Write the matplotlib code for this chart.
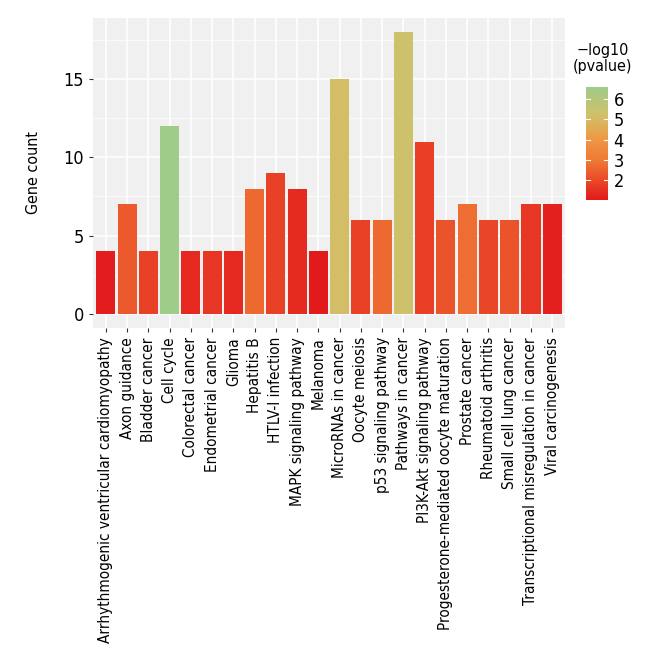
import matplotlib
matplotlib.use('Agg')
import matplotlib.pyplot as plt
import numpy as np
from matplotlib.colors import LinearSegmentedColormap, Normalize

# Données
pathways = ['Arrhythmogenic ventricular cardiomyopathy', 'Axon guidance', 'Bladder cancer',
            'Cell cycle', 'Colorectal cancer', 'Endometrial cancer', 'Glioma', 'Hepatitis B',
            'HTLV-I infection', 'MAPK signaling pathway', 'Melanoma', 'MicroRNAs in cancer',
            'Oocyte meiosis', 'p53 signaling pathway', 'Pathways in cancer',
            'PI3K-Akt signaling pathway', 'Progesterone-mediated oocyte maturation',
            'Prostate cancer', 'Rheumatoid arthritis', 'Small cell lung cancer',
            'Transcriptional misregulation in cancer', 'Viral carcinogenesis']
gene_count = [4, 7, 4, 12, 4, 4, 4, 8, 9, 8, 4, 15, 6, 6, 18, 11, 6, 7, 6, 6, 7, 7]
log_p = [1.05, 2.3, 1.8, 6.6, 1.3, 1.6, 1.3, 2.6, 1.8, 1.35, 1.0, 5.1,
         1.8, 2.6, 5.3, 1.75, 2.2, 2.7, 1.9, 2.2, 1.6, 1.15]

plt.rcParams['font.family'] = ['DejaVu Sans']
plt.rcParams['font.stretch'] = 'condensed'

cmap = LinearSegmentedColormap.from_list('rg', [(0.0, '#E31A1C'), (0.35, '#F07A35'),
                                                (0.55, '#EE9A45'), (0.75, '#D2C06A'),
                                                (1.0, '#A0CC8A')])
vmin, vmax = min(log_p), max(log_p)
norm = Normalize(vmin, vmax)

fig = plt.figure(figsize=(6.6, 6.6), dpi=100)
ax = fig.add_axes([0.141, 0.503, 0.715, 0.47])
ax.set_facecolor('#F0F0F0')

x = np.arange(len(pathways))
ax.bar(x, gene_count, width=0.9, color=cmap(norm(log_p)), zorder=3)

ax.set_xlim(-0.6, len(pathways) - 0.4)
ax.set_ylim(-0.9, 18.9)
ax.set_yticks([0, 5, 10, 15])
ax.set_yticks([2.5, 7.5, 12.5, 17.5], minor=True)
ax.set_xticks(x)
ax.set_xticklabels(pathways, rotation=90, ha='center', va='top', fontsize=11)
ax.tick_params(axis='y', which='major', labelsize=13, length=3, color='#333333')
ax.tick_params(axis='y', which='minor', length=0)
ax.tick_params(axis='x', length=3, color='#333333')
ax.grid(True, which='major', color='white', linewidth=1.1, zorder=0)
ax.grid(True, which='minor', axis='y', color='white', linewidth=0.5, zorder=0)
for s in ax.spines.values():
    s.set_visible(False)
ax.set_ylabel('Gene count', fontsize=11.5, labelpad=16)

# Légende (barre de couleur)
cax = fig.add_axes([0.888, 0.697, 0.033, 0.171])
grad = np.linspace(vmin, vmax, 200).reshape(-1, 1)
cax.imshow(grad, aspect='auto', cmap=cmap, norm=norm, origin='lower',
           extent=[0, 1, vmin, vmax])
cax.set_xticks([])
cax.yaxis.tick_right()
cax.set_yticks([2, 3, 4, 5, 6])
cax.tick_params(axis='y', length=0, labelsize=13, pad=4)
for t in [2, 3, 4, 5, 6]:
    cax.plot([0, 0.2], [t, t], color='white', lw=0.8)
    cax.plot([0.8, 1], [t, t], color='white', lw=0.8)
cax.set_xlim(0, 1)
cax.set_ylim(vmin, vmax)
for s in cax.spines.values():
    s.set_visible(False)
fig.text(0.913, 0.911, '\u2212log10\n(pvalue)', fontsize=11.5, ha='center', va='center',
         linespacing=1.1)

fig.savefig('out.png', dpi=100)
